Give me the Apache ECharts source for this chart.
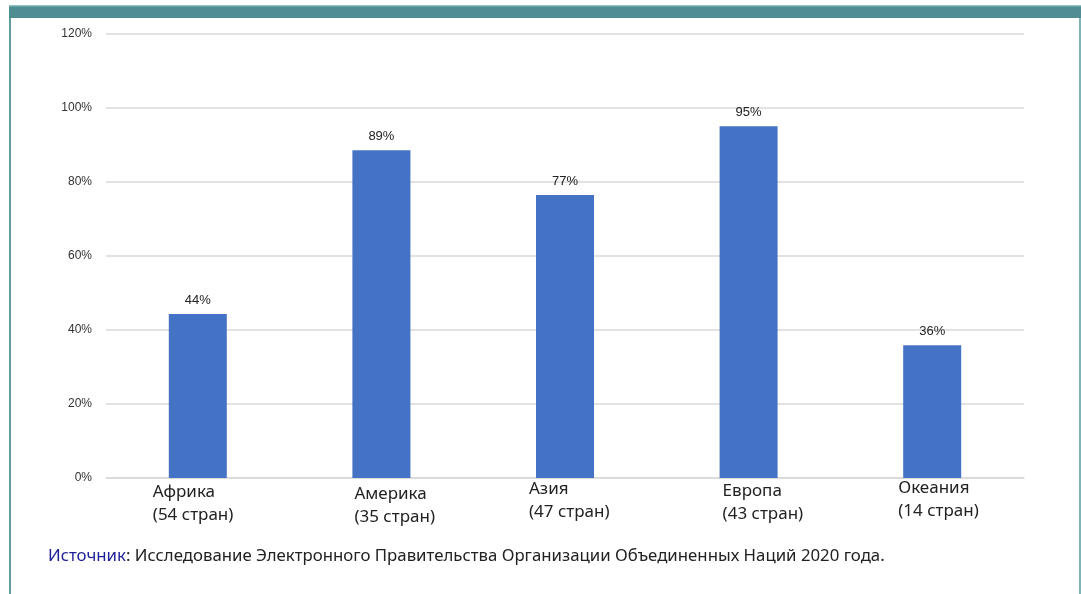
<!DOCTYPE html>
<html><head><meta charset="utf-8">
<script src="https://cdn.jsdelivr.net/npm/echarts@6/dist/echarts.min.js"></script>
<style>html,body{margin:0;padding:0;background:#fff}#c{width:1081px;height:594px}</style>
</head><body><div id="c"></div>
<script>
const regions = ['Африка', 'Америка', 'Азия', 'Европа', 'Океания'];
const countries = ['(54 стран)', '(35 стран)', '(47 стран)', '(43 стран)', '(14 стран)'];
const shares = [44.3, 88.6, 76.5, 95.1, 35.9];
const yTicks = [0, 20, 40, 60, 80, 100, 120];
const sourceLabel = 'Источник';
const sourceText = ': Исследование Электронного Правительства Организации Объединенных Наций 2020 года.';

// per-label fine offsets [dx, dy]
const labelShift = [[0, 4], [18, 6], [9, 1], [19, 3], [11, 0]];

const chart = echarts.init(document.getElementById('c'));
chart.setOption({
  animation: false,
  backgroundColor: '#fff',
  grid: { left: 106, right: 57, top: 34, bottom: 116, containLabel: false },
  xAxis: {
    type: 'category',
    data: regions.map((r, i) => ({
      value: r,
      textStyle: { padding: [labelShift[i][1], 0, 0, labelShift[i][0] * 2] }
    })),
    axisLine: { lineStyle: { color: '#D9D9D9', width: 1.5 } },
    axisTick: { show: false },
    axisLabel: {
      interval: 0, margin: -1,
      formatter: (v, i) => '{a|' + v + '}\n{a|' + countries[i] + '}',
      rich: { a: { width: 90, align: 'left', fontFamily: 'Noto Sans', fontSize: 17, lineHeight: 23, color: '#222' } }
    }
  },
  yAxis: {
    type: 'value', min: 0, max: 120, interval: 20,
    axisLabel: { formatter: v => v + '%', fontFamily: 'Liberation Sans', fontSize: 12, color: '#333', margin: 14 },
    splitLine: { lineStyle: { color: '#D9D9D9', width: 1.5 } },
    axisLine: { show: false }, axisTick: { show: false }
  },
  series: [{
    type: 'bar', data: shares, barWidth: 58,
    itemStyle: { color: '#4472C4' },
    label: { show: true, position: 'top', distance: 7, formatter: p => Math.round(p.value) + '%',
      fontFamily: 'Liberation Sans', fontSize: 13, color: '#222' }
  }],
  graphic: [
    { type: 'rect', shape: { x: 9, y: 6, width: 1072, height: 12 }, style: { fill: '#4E8D91' } },
    { type: 'rect', shape: { x: 9, y: 5, width: 1072, height: 1.5 }, style: { fill: '#8CC0C2' } },
    { type: 'rect', shape: { x: 9, y: 18, width: 2, height: 576 }, style: { fill: '#5E9EA0' } },
    { type: 'rect', shape: { x: 1079, y: 18, width: 2, height: 576 }, style: { fill: '#7FB5B7' } },
    { type: 'text', left: 48, top: 548, style: {
      text: '{b|' + sourceLabel + '}{c|' + sourceText + '}',
      rich: {
        b: { fontFamily: 'Noto Sans', fontSize: 16.8, fill: '#1F1F99' },
        c: { fontFamily: 'Noto Sans', fontSize: 16.8, fill: '#222' }
      } } }
  ]
});
</script></body></html>
